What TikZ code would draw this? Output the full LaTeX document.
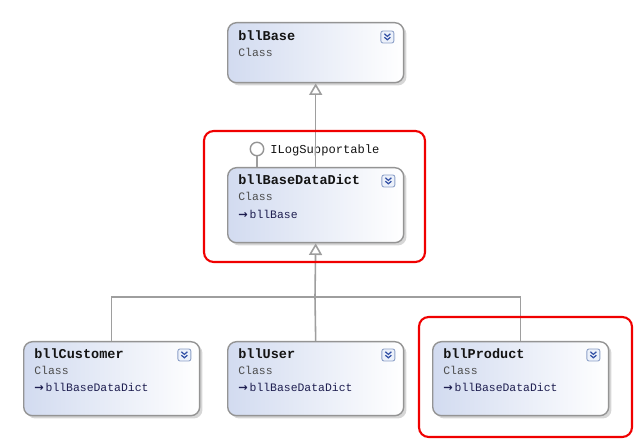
\documentclass[tikz,border=0pt]{standalone}
\usepackage{fontspec}
\setmonofont{Liberation Mono}
\newfontfamily\arrowfont{DejaVu Sans}
\usetikzlibrary{positioning, arrows.meta, shadows, calc}
\definecolor{ink}{gray}{0.08}
\definecolor{mid}{gray}{0.30}
\definecolor{edge}{gray}{0.62}
\definecolor{frame}{gray}{0.58}
\definecolor{tint}{RGB}{210,219,240}
\definecolor{accent}{RGB}{240,0,0}
\definecolor{btnline}{RGB}{140,160,200}
\definecolor{btnfill}{RGB}{236,241,250}
\definecolor{btnmark}{RGB}{50,80,165}
\definecolor{basecol}{RGB}{30,30,80}
% collapse button in the top right corner of a class box
\newcommand{\collapser}[2]{%
  \node[btnbox] (#1-btn) at ($(#1.north east)+#2$) {};
  \draw[btnmark, line width=.7pt] ($(#1-btn.center)+(-3,-3.2)$) -- ++(3,2.6) -- ++(3,-2.6);
  \draw[btnmark, line width=.7pt] ($(#1-btn.center)+(-3,0.2)$) -- ++(3,2.6) -- ++(3,-2.6);
}
\newcommand{\baseref}[1]{{\arrowfont\bfseries\fontsize{6.4}{7}\selectfont →}\,#1}
\tikzset{
  classbox/.style={draw=frame, line width=.8pt, rounded corners=5pt,
    left color=tint, right color=white, anchor=north west, inner sep=0pt,
    minimum width=3.52cm,
    drop shadow={shadow xshift=1.6pt, shadow yshift=-1.6pt, fill=black, opacity=.16}},
  btnbox/.style={draw=btnline, fill=btnfill, rounded corners=1.2pt, inner sep=0pt,
    minimum width=.26cm, minimum height=.24cm, line width=.5pt},
  cname/.style={anchor=base west, inner sep=0pt, text=ink, font=\ttfamily\bfseries\fontsize{7.7}{8}\selectfont},
  ckind/.style={anchor=base west, inner sep=0pt, text=mid, font=\ttfamily\fontsize{6.5}{7}\selectfont},
  cbase/.style={anchor=base west, inner sep=0pt, text=basecol, font=\ttfamily\fontsize{6.5}{7}\selectfont},
  link/.style={draw=edge, line width=.9pt},
  inherit/.style={link, -{Triangle[open, width=7.4pt, length=6.6pt, fill=white]}},
  hilite/.style={draw=accent, line width=1.2pt, rounded corners=5.5pt},
}
\begin{document}
\begin{tikzpicture}[x=0.02cm, y=-0.02cm]
\useasboundingbox[fill=white] (0,0) rectangle (643,448);

% class boxes
\node[classbox, minimum height=1.2cm] (base) at (227,22) {};
\node[classbox, minimum height=1.5cm] (dict) at (227,167) {};
\node[classbox, minimum height=1.48cm] (cust) at (23,341) {};
\node[classbox, minimum height=1.48cm] (user) at (227,341) {};
\node[classbox, minimum height=1.48cm] (prod) at (432,341) {};

\node[cname] (base-name) at ($(base.north west)+(11,19)$) {bllBase};
\node[ckind] (base-kind) at ($(base.north west)+(11,35)$) {Class};
\collapser{base}{(-17,15)}

\node[cname] (dict-name) at ($(dict.north west)+(11,18)$) {bllBaseDataDict};
\node[ckind] (dict-kind) at ($(dict.north west)+(11,34)$) {Class};
\node[cbase] (dict-base) at ($(dict.north west)+(11,52)$) {\baseref{bllBase}};
\collapser{dict}{(-16,14)}

\node[cname] (cust-name) at ($(cust.north west)+(11,18)$) {bllCustomer};
\node[ckind] (cust-kind) at ($(cust.north west)+(11,34)$) {Class};
\node[cbase] (cust-base) at ($(cust.north west)+(11,51)$) {\baseref{bllBaseDataDict}};
\collapser{cust}{(-16,14)}

\node[cname] (user-name) at ($(user.north west)+(11,18)$) {bllUser};
\node[ckind] (user-kind) at ($(user.north west)+(11,34)$) {Class};
\node[cbase] (user-base) at ($(user.north west)+(11,51)$) {\baseref{bllBaseDataDict}};
\collapser{user}{(-16,14)}

\node[cname] (prod-name) at ($(prod.north west)+(11,18)$) {bllProduct};
\node[ckind] (prod-kind) at ($(prod.north west)+(11,34)$) {Class};
\node[cbase] (prod-base) at ($(prod.north west)+(11,51)$) {\baseref{bllBaseDataDict}};
\collapser{prod}{(-16,14)}

% interface lollipop
\node[circle, draw=frame, fill=white, line width=.8pt, minimum size=.27cm, inner sep=0pt] (iface) at (257,149) {};
\node[anchor=base west, inner sep=0pt, text=ink, font=\ttfamily\fontsize{6.9}{8}\selectfont] (iface-name) at (270,154) {ILogSupportable};
\draw[link] (iface.south) -- (iface.south |- dict.north);

% generalisation
\coordinate (bus) at (315,297);
\draw[inherit] (dict.north) -- (base.south);
\draw[link] (cust.north) |- (bus) -| (prod.north);
\draw[link] (user.north) -- (bus);
\draw[inherit] (bus) -- (dict.south);

% highlights
\draw[hilite] (204,131) rectangle (425,262);
\draw[hilite] (419,317) rectangle (632,437);
\end{tikzpicture}
\end{document}
